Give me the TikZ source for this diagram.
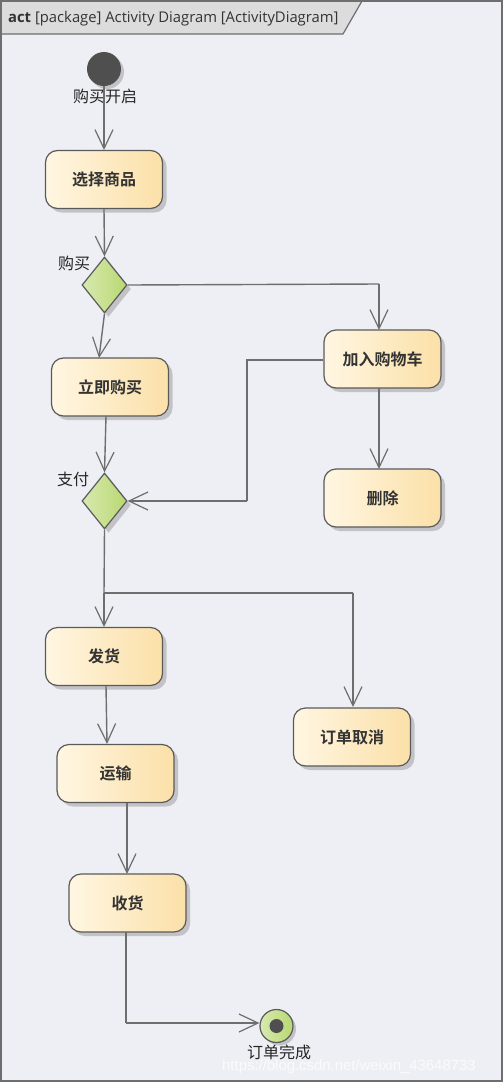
\documentclass[tikz,border=0pt]{standalone}
\usepackage{fontspec}
\setmainfont{Open Sans}
\newfontfamily\cjk{Noto Sans CJK SC}
\newfontfamily\cjkb{Noto Sans CJK SC Bold}
\newfontfamily\wmfont{Liberation Sans}
\usetikzlibrary{shapes.geometric,arrows.meta,shadows,calc}
\definecolor{bgc}{HTML}{EEEFF4}
\definecolor{linec}{HTML}{6E6E6E}
\definecolor{borderc}{HTML}{5A5A5A}
\definecolor{hdr}{HTML}{DCDCDC}
\definecolor{actL}{HTML}{FFF6E2}
\definecolor{actR}{HTML}{FBE0A8}
\definecolor{decL}{HTML}{D8E9B0}
\definecolor{decR}{HTML}{B8D871}
\definecolor{darkdot}{HTML}{4F4F4F}
\tikzset{
  actbox/.style={draw=borderc, line width=1.2pt, rounded corners=12pt,
    minimum width=117pt, minimum height=58pt, inner sep=0pt,
    left color=actL, right color=actR,
    drop shadow={shadow xshift=4pt, shadow yshift=-4pt, fill=black, opacity=0.18},
    font=\cjkb\fontsize{16}{16}\selectfont, text=black!80},
  decbox/.style={diamond, draw=borderc, line width=1.2pt, inner sep=0pt,
    minimum width=45pt, minimum height=56pt, left color=decL, right color=decR,
    drop shadow={shadow xshift=4pt, shadow yshift=-4pt, fill=black, opacity=0.18}},
  lbl/.style={font=\cjk\fontsize{16}{16}\selectfont, text=black!85, inner sep=0pt},
  flow/.style={draw=linec, line width=1.4pt, -{Straight Barb[length=19pt,width=18pt,line width=1.2pt]}},
  plain/.style={draw=linec, line width=1.4pt},
}
\begin{document}
\begin{tikzpicture}[x=1pt,y=-1pt]
\useasboundingbox (0,0) rectangle (503,1082);
% frame
\fill[bgc] (0,0) rectangle (503,1082);
\draw[fill=hdr, draw=linec, line width=1.2pt] (1,1) -- (362,1) -- (343,34) -- (1,34) -- cycle;
\draw[linec, line width=1.5pt] (1,1) rectangle (502,1081);
\node[anchor=base west, inner sep=0pt, text=black!80, font=\fontsize{14.8}{15}\selectfont] (title) at (8,22) {\textbf{act} [package] Activity Diagram [ActivityDiagram]};

% nodes
\node[circle, fill=darkdot, minimum size=34pt, inner sep=0pt,
  drop shadow={shadow xshift=3pt, shadow yshift=-3pt, fill=black, opacity=0.18}] (start) at (104,69) {};
\node[lbl] (startlbl) at (105,96) {购买开启};
\node[actbox] (xz) at (104,179.5) {选择商品};
\node[decbox] (gm) at (104.5,285) {};
\node[lbl] (gmlbl) at (74,263) {购买};
\node[actbox] (lj) at (110,387) {立即购买};
\node[actbox] (jr) at (382.5,359) {加入购物车};
\node[actbox] (sc) at (382.5,498) {删除};
\node[decbox] (zf) at (104.5,501) {};
\node[lbl] (zflbl) at (73,479) {支付};
\node[actbox] (fh) at (104,656.5) {发货};
\node[actbox] (qx) at (352,737) {订单取消};
\node[actbox] (ys) at (115.5,773.5) {运输};
\node[actbox] (sh) at (127.5,903) {收货};
\node[circle, draw=borderc, line width=1.2pt, left color=decL, right color=decR, minimum size=33pt, inner sep=0pt,
  drop shadow={shadow xshift=3pt, shadow yshift=-3pt, fill=black, opacity=0.18}] (fin) at (276.5,1026) {};
\node[circle, fill=darkdot, minimum size=14pt, inner sep=0pt] (findot) at (fin.center) {};
\node[lbl] (finlbl) at (279,1052) {订单完成};

% coordinates
\coordinate (c1) at (379,284);
\coordinate (c2) at (247,360);
\coordinate (c3) at (247,501);
\coordinate (fork) at (104,593);
\coordinate (c4) at (353,593);
\coordinate (c5) at (126,1023);

% connectors
\draw[flow] (start) -- (104,150);
\draw[flow] (104,209) -- (gm.north);
\draw[flow] (gm.south) -- (99,358);
\draw[plain] (gm.east) -- (c1);
\draw[flow] (c1) -- (379,330);
\draw[flow] (379,388) -- (379,469);
\draw[plain] (jr.west |- c2) -- (c2) -- (c3);
\draw[flow] (c3) -- (zf.east);
\draw[flow] (106,416) -- (zf.north);
\draw[plain] (zf.south) -- (fork);
\draw[flow] (fork) -- (104,627);
\draw[plain] (fork) -- (c4);
\draw[flow] (c4) -- (353,707);
\draw[flow] (106,686) -- (107,744);
\draw[flow] (127,803) -- (127,874);
\draw[plain] (126,932) -- (c5);
\draw[flow] (c5) -- (fin.west |- c5);

% watermark
\node[anchor=base west, inner sep=0pt, text=white, opacity=0.75, font=\wmfont\fontsize{14.9}{15}\selectfont] (wm) at (222,1070) {https://blog.csdn.net/weixin\_43648733};
\end{tikzpicture}
\end{document}
